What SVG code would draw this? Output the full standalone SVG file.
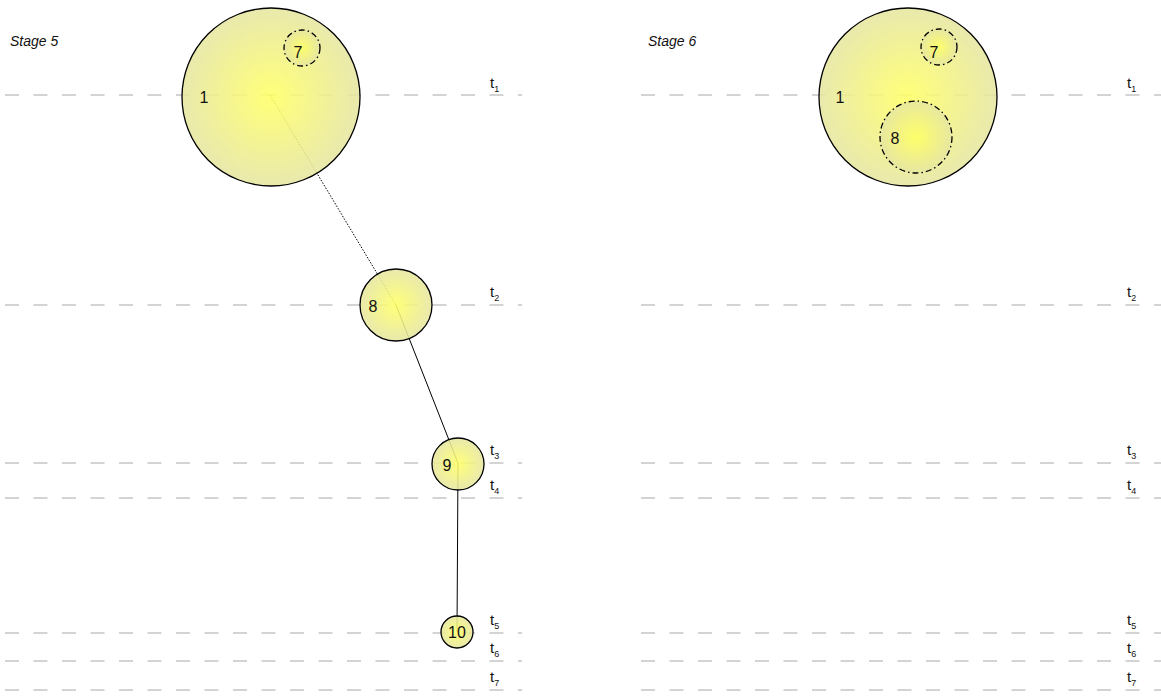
<svg xmlns="http://www.w3.org/2000/svg" width="1161" height="700" viewBox="0 0 1161 700">
<defs>
<radialGradient id="g" cx="0.5" cy="0.5" r="0.5">
<stop offset="0" stop-color="#ffff66"/>
<stop offset="1" stop-color="#e6e6a2"/>
</radialGradient>
<style>
.tl{stroke:#a8a8a8;stroke-width:1;stroke-dasharray:14,14.5;fill:none}
.n{fill:url(#g);fill-opacity:0.88;stroke:#000;stroke-width:1.3}
.nd{fill:url(#g);fill-opacity:0.9;stroke:#000;stroke-width:1.3;stroke-dasharray:6,3,1.5,3}
.lb{font-family:"Liberation Sans",Arial,sans-serif;font-size:16px;fill:#111;text-anchor:middle}
.st{font-family:"Liberation Sans",Arial,sans-serif;font-size:14px;font-style:italic;fill:#111}
.t{font-family:"Liberation Sans",Arial,sans-serif;font-size:15px;fill:#111}
.s{font-size:9px}
.c{stroke:#000;stroke-width:1;fill:none}
</style>
</defs>
<g id="timelines">
<line class="tl" x1="5" y1="95" x2="522" y2="95"/>
<line class="tl" x1="5" y1="305" x2="522" y2="305"/>
<line class="tl" x1="5" y1="463" x2="522" y2="463"/>
<line class="tl" x1="5" y1="498" x2="522" y2="498"/>
<line class="tl" x1="5" y1="633" x2="522" y2="633"/>
<line class="tl" x1="5" y1="661" x2="522" y2="661"/>
<line class="tl" x1="5" y1="690" x2="522" y2="690"/>
<line class="tl" x1="641" y1="95" x2="1161" y2="95"/>
<line class="tl" x1="641" y1="305" x2="1161" y2="305"/>
<line class="tl" x1="641" y1="463" x2="1161" y2="463"/>
<line class="tl" x1="641" y1="498" x2="1161" y2="498"/>
<line class="tl" x1="641" y1="633" x2="1161" y2="633"/>
<line class="tl" x1="641" y1="661" x2="1161" y2="661"/>
<line class="tl" x1="641" y1="690" x2="1161" y2="690"/>
</g>
<g id="labels">
<text class="st" x="10" y="46">Stage 5</text>
<text class="st" x="648" y="46">Stage 6</text>
<text class="t" x="490" y="88">t<tspan class="s" dy="4">1</tspan></text>
<text class="t" x="490" y="297">t<tspan class="s" dy="4">2</tspan></text>
<text class="t" x="490" y="455">t<tspan class="s" dy="4">3</tspan></text>
<text class="t" x="490" y="490">t<tspan class="s" dy="4">4</tspan></text>
<text class="t" x="490" y="625">t<tspan class="s" dy="4">5</tspan></text>
<text class="t" x="490" y="653">t<tspan class="s" dy="4">6</tspan></text>
<text class="t" x="490" y="682">t<tspan class="s" dy="4">7</tspan></text>
<text class="t" x="1127" y="88">t<tspan class="s" dy="4">1</tspan></text>
<text class="t" x="1127" y="297">t<tspan class="s" dy="4">2</tspan></text>
<text class="t" x="1127" y="455">t<tspan class="s" dy="4">3</tspan></text>
<text class="t" x="1127" y="490">t<tspan class="s" dy="4">4</tspan></text>
<text class="t" x="1127" y="625">t<tspan class="s" dy="4">5</tspan></text>
<text class="t" x="1127" y="653">t<tspan class="s" dy="4">6</tspan></text>
<text class="t" x="1127" y="682">t<tspan class="s" dy="4">7</tspan></text>
</g>
<g id="connectors">
<line class="c" x1="270" y1="95" x2="396" y2="305" stroke-dasharray="1.5,1.5"/>
<line class="c" x1="396" y1="305" x2="458" y2="463"/>
<line class="c" x1="458" y1="463" x2="457" y2="632"/>
</g>
<g id="n1"><circle class="n" cx="271" cy="97" r="89"/><text class="lb" x="204" y="103">1</text></g>
<g id="n7"><circle class="nd" cx="302" cy="48" r="18"/><text class="lb" x="298" y="58">7</text></g>
<g id="n8"><circle class="n" cx="396" cy="305" r="36"/><text class="lb" x="373" y="312">8</text></g>
<g id="n9"><circle class="n" cx="458" cy="464" r="26"/><text class="lb" x="447" y="471">9</text></g>
<g id="n10"><circle class="n" cx="457" cy="632" r="16"/><text class="lb" x="457" y="638">10</text></g>
<g id="s6n1"><circle class="n" cx="908" cy="97" r="89"/><text class="lb" x="840" y="103">1</text></g>
<g id="s6n7"><circle class="nd" cx="939" cy="47" r="18"/><text class="lb" x="934" y="58">7</text></g>
<g id="s6n8"><circle class="nd" cx="916" cy="137" r="36"/><text class="lb" x="895" y="144">8</text></g>
</svg>
